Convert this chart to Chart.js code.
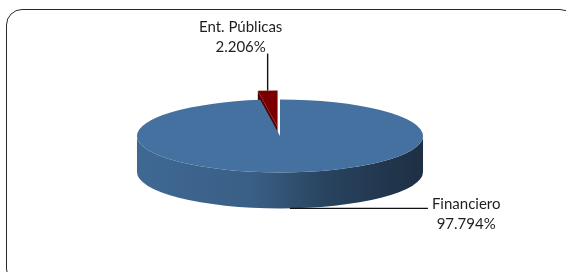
<!DOCTYPE html>
<html><head><meta charset="utf-8">
<script src="https://cdn.jsdelivr.net/npm/chart.js@4"></script>
<style>
html,body{margin:0;padding:0;background:#fff;overflow:hidden;width:566px;height:272px;}
#wrap{position:relative;width:566px;height:272px;overflow:hidden;}
#frame{position:absolute;left:6px;top:9px;width:570px;height:276px;border:1.6px solid #2a2a2a;border-radius:16px;box-sizing:border-box;}
#c{position:absolute;left:0;top:0;}
</style></head>
<body><div id="wrap"><div id="frame"></div><canvas id="c" width="566" height="272"></canvas></div>
<script>
// ---- data ----
const categories = ['Financiero', 'Ent. Públicas'];
const shares = [97.794, 2.206];
const sliceColors = ['#4571A0', '#7A0000'];
const explode = [0, 30];

function shade(hex, f) {
  const n = parseInt(hex.slice(1), 16);
  const r = Math.round(((n >> 16) & 255) * f), g = Math.round(((n >> 8) & 255) * f), b = Math.round((n & 255) * f);
  return `rgb(${r},${g},${b})`;
}

const pie3d = {
  id: 'pie3d',
  beforeDatasetsDraw(chart, args, o) {
    const ctx = chart.ctx;
    const meta = chart.getDatasetMeta(0);
    const data = chart.data.datasets[0].data;
    const total = data.reduce((a, b) => a + b, 0);
    const arcs = meta.data.map((arc, i) => {
      const p = arc.getProps(['x', 'y', 'startAngle', 'endAngle', 'outerRadius'], true);
      return Object.assign({ i, off: arc.options.offset || 0, color: arc.options.backgroundColor }, p);
    });
    const R = arcs[0].outerRadius;
    const rx = R * o.sx, ry = R * o.sy, depth = R * o.depth;
    arcs.forEach(a => {
      a.mid = (a.startAngle + a.endAngle) / 2;
      a.cx = a.x + Math.cos(a.mid) * a.off * o.sx;
      a.cy = a.y + Math.sin(a.mid) * a.off * o.sy;
    });
    const pt = (a, ang, h) => [a.cx + rx * Math.cos(ang), a.cy + ry * Math.sin(ang) + h];
    const order = arcs.slice().sort((p, q) => Math.sin(p.mid) - Math.sin(q.mid));
    ctx.save();
    order.forEach(a => {
      const s = a.startAngle, e = a.endAngle;
      const sideCol = shade(a.color, 0.72);
      // radial faces
      [[s, Math.cos(s) < -1e-6], [e, Math.cos(e) > 1e-6]].forEach(([ang, vis]) => {
        if (!vis) return;
        const p1 = pt(a, ang, 0), p2 = pt(a, ang, depth);
        ctx.beginPath();
        ctx.moveTo(a.cx, a.cy);
        ctx.lineTo(p1[0], p1[1]);
        ctx.lineTo(p2[0], p2[1]);
        ctx.lineTo(a.cx, a.cy + depth);
        ctx.closePath();
        ctx.fillStyle = sideCol;
        ctx.fill();
      });
      // outer curved side (front half only)
      for (let k = -1; k <= 2; k++) {
        const a0 = Math.max(s, 2 * Math.PI * k), a1 = Math.min(e, 2 * Math.PI * k + Math.PI);
        if (a1 <= a0) continue;
        const g = ctx.createLinearGradient(a.cx - rx, 0, a.cx + rx, 0);
        o.sideStops.forEach(([t, f]) => g.addColorStop(t, shade(a.color, f)));
        ctx.beginPath();
        ctx.ellipse(a.cx, a.cy, rx, ry, 0, a0, a1, false);
        ctx.ellipse(a.cx, a.cy + depth, rx, ry, 0, a1, a0, true);
        ctx.closePath();
        ctx.fillStyle = g;
        ctx.fill();
      }
      // top face
      ctx.beginPath();
      ctx.moveTo(a.cx, a.cy);
      ctx.ellipse(a.cx, a.cy, rx, ry, 0, s, e, false);
      ctx.closePath();
      ctx.fillStyle = a.color;
      ctx.fill();
    });
    // labels with leader lines
    ctx.font = o.font;
    ctx.fillStyle = o.textColor;
    ctx.strokeStyle = o.lineColor;
    ctx.lineWidth = 1.4;
    ctx.textAlign = 'center';
    ctx.textBaseline = 'alphabetic';
    arcs.forEach(a => {
      const lines = [chart.data.labels[a.i], (data[a.i] / total * 100).toFixed(3) + '%'];
      if (Math.sin(a.mid) < 0) {
        const p = pt(a, a.mid, 0);
        const top = p[1] - o.upLeader;
        ctx.beginPath(); ctx.moveTo(p[0], p[1]); ctx.lineTo(p[0], top); ctx.stroke();
        const tx = p[0] + o.upDx;
        ctx.fillText(lines[1], tx, top - 2);
        ctx.fillText(lines[0], tx, top - 2 - o.lineH);
      } else {
        const p = pt(a, a.mid, depth);
        const endX = p[0] + o.sideLeader;
        ctx.beginPath(); ctx.moveTo(p[0], p[1]); ctx.lineTo(endX, p[1]); ctx.stroke();
        const w = Math.max(...lines.map(l => ctx.measureText(l).width));
        const tx = endX + 4 + w / 2;
        ctx.fillText(lines[0], tx, p[1] + 1);
        ctx.fillText(lines[1], tx, p[1] + 1 + o.lineH);
      }
    });
    ctx.restore();
    return false;
  }
};

new Chart(document.getElementById('c'), {
  type: 'pie',
  data: {
    labels: categories,
    datasets: [{ data: shares, backgroundColor: sliceColors, offset: explode, borderWidth: 0 }]
  },
  options: {
    responsive: false,
    animation: false,
    layout: { padding: { left: 0, right: 6, top: 0, bottom: 0 } },
    plugins: {
      legend: { display: false },
      tooltip: { enabled: false },
      pie3d: {
        sx: 1.182, sy: 0.3017, depth: 0.2975,
        sideStops: [[0, 0.92], [0.4, 0.84], [0.65, 0.6], [1, 0.42]],
        font: '15px Lato', textColor: '#1e1e1e', lineColor: '#111',
        upLeader: 37, upDx: -27, lineH: 19.5, sideLeader: 138
      }
    }
  },
  plugins: [pie3d]
});
</script>
</body></html>
